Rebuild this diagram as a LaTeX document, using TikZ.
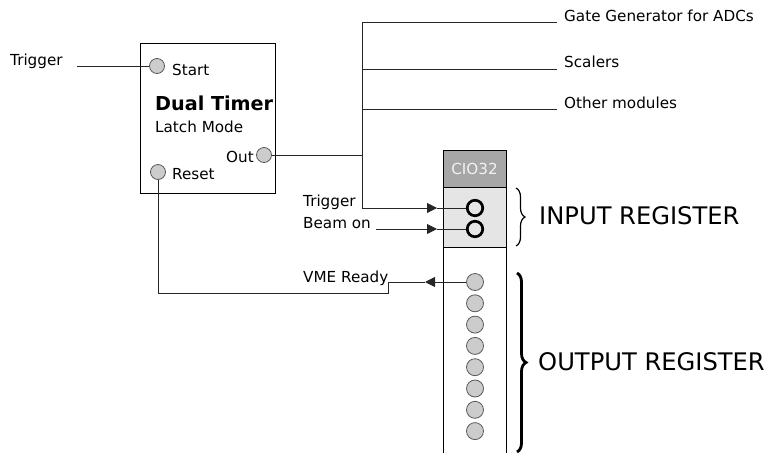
\documentclass[tikz,border=0pt]{standalone}
\usepackage{fontspec}
\setmainfont{DejaVu Sans}
\usetikzlibrary{arrows.meta, decorations.pathreplacing}

\begin{document}
\begin{tikzpicture}[
		x=1pt, y=-1pt,
		font=\fontsize{15.2}{17}\selectfont,
		wire/.style={draw=black!85, line width=0.9pt},
		arrow/.style={wire, -{Triangle[length=10pt, width=10pt]}},
		port/.style={
			circle,
			draw=black!65,
			fill=black!20,
			line width=0.8pt,
			inner sep=0pt,
			minimum size=15pt
		},
		bit/.style={
			circle,
			draw=black,
			line width=2.7pt,
			inner sep=0pt,
			minimum size=15.5pt
		},
		lbl/.style={anchor=base west, inner sep=0pt},
		regfont/.style={font=\fontsize{24.2}{28}\selectfont},
		brc/.style={decorate, decoration={brace, amplitude=9pt}}
		]
		
		\useasboundingbox (0,0) rectangle (768,453);
		
		\node[draw, line width=0.8pt, anchor=north west, inner sep=0pt,
			minimum width=135pt, minimum height=150pt] (timer) at (140,43) {};
		
		\node[port] (start) at (157,66) {};
		\node[lbl] (starttxt) at (172,75) {Start};
		\node[lbl, font=\fontsize{19.2}{22}\selectfont\bfseries] (title) at (155,110) {Dual Timer};
		\node[lbl] (mode) at (155,132) {Latch Mode};
		\node[port] (out) at (264,155) {};
		\node[anchor=base east, inner sep=0pt] (outtxt) at (254,162) {Out};
		\node[port] (reset) at (158,172) {};
		\node[lbl] (resettxt) at (172,179) {Reset};
		
		\node[lbl] (trig) at (10,65) {Trigger};
		
		\node[lbl] (gate) at (564,21) {Gate Generator for ADCs};
		\node[lbl] (scal) at (564,67) {Scalers};
		\node[lbl] (other) at (564,108) {Other modules};
		
		\draw[fill=black!35, line width=0.8pt] (443,150) rectangle (506,187);
		\node[text=black!5] (cio) at (474.5,168.5) {CIO32};
		\draw[fill=black!10, line width=0.8pt] (443,187) rectangle (506,247);
		\draw[line width=0.8pt] (443,453) -- (443,247) -- (506,247) -- (506,453);
		
		\node[bit] (in1) at (475,208) {};
		\node[bit] (in2) at (475,229) {};
		\foreach \i in {0,...,7}
			\node[port, minimum size=17pt] (o\i) at (475,282+21.3*\i) {};
		
		\node[lbl] (trigin) at (303,206) {Trigger};
		\node[lbl] (beam) at (303,228) {Beam on};
		\node[lbl] (vme) at (303,282) {VME Ready};
		
		\draw[brc, line width=1.2pt] (516,188) -- (516,246);
		\draw[brc, line width=2.8pt] (517,273) -- (517,452);
		\node[lbl, regfont] (inreg) at (539,224) {INPUT REGISTER};
		\node[lbl, regfont] (outreg) at (538,370) {OUTPUT REGISTER};
		
		\coordinate (trigst) at (77,66);
		\coordinate (gatebr) at (362,22);
		\coordinate (scalbr) at (362,69);
		\coordinate (othbr) at (362,109);
		\coordinate (outbr) at (362,155);
		\coordinate (tip1) at (437,208);
		\coordinate (beamst) at (376,229);
		\coordinate (tip2) at (437,229);
		\coordinate (vmetip) at (425,282);
		\coordinate (vmebend) at (388,282);
		\coordinate (rbend) at (388,293);
		
		\draw[wire] (trigst) -- (start);
		\draw[wire] (out) -- (outbr);
		\draw[wire] (gatebr) -- (outbr);
		\draw[wire] (gatebr) -- ([xshift=-7pt]gatebr -| gate.west);
		\draw[wire] (scalbr) -- ([xshift=-7pt]scalbr -| scal.west);
		\draw[wire] (othbr) -- ([xshift=-7pt]othbr -| other.west);
		
		\draw[arrow] (outbr) |- (tip1);
		\draw[wire] (tip1) -- (in1);
		\draw[arrow] (beamst) -- (tip2);
		\draw[wire] (tip2) -- (in2);
		
		\draw[arrow] (o0) -- (vmetip);
		\draw[wire] (vmetip) -- (vmebend) -- (rbend) -| (reset);
		
	\end{tikzpicture}
\end{document}
